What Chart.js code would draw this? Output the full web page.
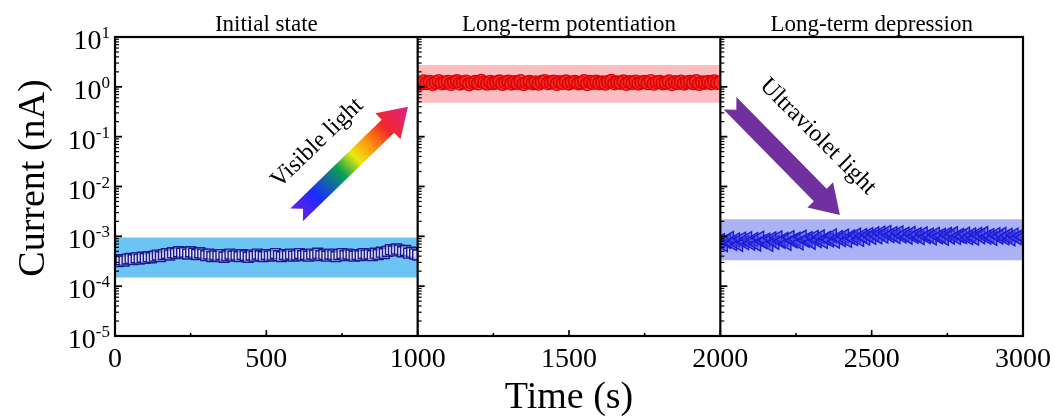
<!DOCTYPE html>
<html>
<head>
<meta charset="utf-8">
<script src="https://cdn.jsdelivr.net/npm/chart.js@4.4.1/dist/chart.umd.min.js"></script>
<style>
  html, body { margin: 0; padding: 0; background: #fff; }
</style>
</head>
<body>
<canvas id="chartCanvas" width="1055" height="419"></canvas>
<script>
// ---- data ----
const panelTitles = ["Initial state", "Long-term potentiation", "Long-term depression"];
const panelStarts = [0, 1000, 2000];
const timeStep = 10; // s between samples

// Initial state, x1e-4 nA
const initialCurrent = [
  3.3, 3.1, 3.4, 3.2, 3.5, 3.6, 3.4, 3.7, 3.5, 3.8,
  3.6, 3.9, 3.7, 4.0, 4.2, 3.9, 4.3, 4.5, 4.2, 4.7,
  4.5, 4.9, 4.6, 4.8, 4.4, 4.9, 4.6, 4.3, 4.7, 4.4,
  4.1, 4.4, 3.9, 4.2, 4.0, 4.3, 3.8, 4.1, 4.4, 4.0,
  4.2, 3.9, 4.3, 4.1, 3.8, 4.2, 4.0, 4.4, 4.1, 3.9,
  4.3, 4.0, 4.2, 4.5, 4.1, 3.9, 4.3, 4.1, 4.4, 4.0,
  4.2, 4.5, 4.1, 4.3, 4.0, 4.4, 4.2, 4.6, 4.1, 4.3,
  4.0, 4.4, 4.2, 3.9, 4.3, 4.5, 4.1, 4.4, 4.2, 4.0,
  4.3, 4.1, 4.5, 4.2, 4.4, 4.1, 4.6, 4.3, 4.8, 4.5,
  5.0, 5.4, 5.1, 5.6, 5.3, 4.9, 5.2, 4.6, 4.8, 4.4,
  4.2
];
// Long-term potentiation, nA
const ltpCurrent = [
  1.22, 1.16, 1.28, 1.19, 1.25, 1.14, 1.23, 1.30, 1.18, 1.21,
  1.26, 1.15, 1.24, 1.29, 1.17, 1.22, 1.27, 1.13, 1.20, 1.25,
  1.18, 1.31, 1.21, 1.16, 1.26, 1.19, 1.23, 1.28, 1.15, 1.22,
  1.27, 1.17, 1.24, 1.20, 1.29, 1.14, 1.21, 1.26, 1.18, 1.23,
  1.16, 1.25, 1.30, 1.19, 1.22, 1.27, 1.15, 1.24, 1.20, 1.28,
  1.17, 1.23, 1.26, 1.18, 1.21, 1.29, 1.14, 1.25, 1.20, 1.27,
  1.19, 1.22, 1.16, 1.26, 1.31, 1.18, 1.23, 1.21, 1.28, 1.15,
  1.24, 1.20, 1.27, 1.17, 1.22, 1.26, 1.19, 1.30, 1.16, 1.23,
  1.25, 1.18, 1.21, 1.28, 1.14, 1.24, 1.20, 1.27, 1.17, 1.22,
  1.26, 1.19, 1.29, 1.15, 1.23, 1.21, 1.25, 1.18, 1.28, 1.20,
  1.22
];
// Long-term depression, x1e-4 nA
const ltdCurrent = [
  8.2, 6.8, 7.9, 9.1, 7.2, 8.5, 6.9, 8.8, 7.5, 9.0,
  7.3, 8.6, 7.0, 9.2, 7.8, 8.4, 6.9, 8.9, 7.6, 9.3,
  7.9, 8.7, 7.2, 9.4, 8.1, 8.8, 7.4, 9.6, 8.3, 9.0,
  7.6, 9.5, 8.2, 9.8, 7.9, 9.1, 8.5, 10.2, 8.0, 9.4,
  8.6, 10.1, 8.3, 9.7, 9.0, 10.6, 8.7, 10.3, 9.2, 10.8,
  9.5, 11.2, 9.8, 11.6, 10.1, 12.0, 10.4, 11.3, 9.9, 11.7,
  10.2, 11.1, 9.6, 11.4, 10.0, 10.8, 9.4, 11.2, 9.9, 10.6,
  9.3, 11.0, 9.8, 10.5, 9.1, 10.9, 9.7, 11.3, 9.5, 10.4,
  9.9, 11.1, 9.4, 10.7, 9.2, 10.9, 9.8, 11.4, 9.6, 10.3,
  9.1, 10.8, 9.7, 11.0, 9.3, 10.5, 8.9, 10.6, 9.4, 10.2,
  9.6
];
const seriesScale = [1e-4, 1, 1e-4];

// shaded bands behind each trace (nA)
const bandTop = [9.5e-4, 2.75, 2.2e-3];
const bandBottom = [1.5e-4, 0.48, 3.3e-4];

const xTicks = [0, 500, 1000, 1500, 2000, 2500, 3000];
const yExponents = [-5, -4, -3, -2, -1, 0, 1];

// ---- helpers ----
const serif = '"Liberation Serif", "Times New Roman", serif';

function toPoints(start, values, scale) {
  return values.map((v, i) => ({ x: start + i * timeStep, y: v * scale }));
}

const bandColors = ["rgba(108,196,244,1)", "rgba(250,190,192,1)", "rgba(172,178,246,1)"];
const markerStyles = [
  { pointStyle: "rect", radius: 7, rotation: 0, border: "#1a1a8e", fill: "rgba(235,235,250,0.55)" },
  { pointStyle: "circle", radius: 6.5, rotation: 0, border: "#e00000", fill: "rgba(235,40,40,0.55)" },
  { pointStyle: "triangle", radius: 8, rotation: 270, border: "#1a1ad8", fill: "rgba(70,70,225,0.5)" },
];
const seriesValues = [initialCurrent, ltpCurrent, ltdCurrent];

// chart area is 908px wide, each panel ~302.67px
const panelPx = 908 / 3;
const panelClips = [
  { left: 0, top: 0, right: -2 * panelPx, bottom: 0 },
  { left: -panelPx, top: 0, right: -panelPx, bottom: 0 },
  { left: -2 * panelPx, top: 0, right: 0, bottom: 0 },
];

const datasets = [];
seriesValues.forEach((vals, i) => {
  const m = markerStyles[i];
  datasets.push({
    label: panelTitles[i],
    data: toPoints(panelStarts[i], vals, seriesScale[i]),
    showLine: false,
    pointStyle: m.pointStyle,
    pointRadius: m.radius,
    pointRotation: m.rotation,
    pointBorderColor: m.border,
    pointBackgroundColor: m.fill,
    pointBorderWidth: 1.4,
    clip: panelClips[i],
    order: 0,
  });
});
bandTop.forEach((top, i) => {
  datasets.push({
    label: "band " + i,
    data: [{ x: panelStarts[i], y: top }, { x: panelStarts[i] + 1000, y: top }],
    borderWidth: 0,
    pointRadius: 0,
    backgroundColor: bandColors[i],
    fill: { value: bandBottom[i] },
    order: 2,
  });
});

// draws a notched block arrow from tail to tip
function blockArrow(ctx, x0, y0, x1, y1, fillStyle) {
  const dx = x1 - x0, dy = y1 - y0;
  const L = Math.hypot(dx, dy);
  const shaft = 18, head = 36, headLen = 28, notch = 9;
  ctx.save();
  ctx.translate(x0, y0);
  ctx.rotate(Math.atan2(dy, dx));
  ctx.beginPath();
  ctx.moveTo(notch, 0);
  ctx.lineTo(0, -shaft / 2);
  ctx.lineTo(L - headLen, -shaft / 2);
  ctx.lineTo(L - headLen, -head / 2);
  ctx.lineTo(L, 0);
  ctx.lineTo(L - headLen, head / 2);
  ctx.lineTo(L - headLen, shaft / 2);
  ctx.lineTo(0, shaft / 2);
  ctx.closePath();
  ctx.fillStyle = typeof fillStyle === "function" ? fillStyle(ctx, L) : fillStyle;
  ctx.fill();
  ctx.restore();
}

function rotatedText(ctx, text, x, y, angleDeg, size) {
  ctx.save();
  ctx.translate(x, y);
  ctx.rotate(angleDeg * Math.PI / 180);
  ctx.font = size + "px " + serif;
  ctx.textAlign = "center";
  ctx.textBaseline = "middle";
  ctx.fillStyle = "#000";
  ctx.fillText(text, 0, 0);
  ctx.restore();
}

const decorPlugin = {
  id: "decor",
  afterDatasetsDraw(chart) {
    const { ctx, chartArea: a, scales } = chart;
    const x = scales.x, y = scales.y;
    ctx.save();

    // frame + panel separators
    ctx.strokeStyle = "#000";
    ctx.lineWidth = 2.2;
    ctx.strokeRect(a.left, a.top, a.right - a.left, a.bottom - a.top);
    [1000, 2000].forEach(t => {
      const px = x.getPixelForValue(t);
      ctx.beginPath();
      ctx.moveTo(px, a.top);
      ctx.lineTo(px, a.bottom);
      ctx.stroke();
    });

    // x ticks (inward)
    ctx.lineWidth = 1.6;
    for (let t = 0; t <= 3000; t += 250) {
      const px = x.getPixelForValue(t);
      const len = t % 500 === 0 ? 6 : 3;
      ctx.beginPath();
      ctx.moveTo(px, a.bottom);
      ctx.lineTo(px, a.bottom - len);
      ctx.stroke();
    }

    // y ticks on the left side of every panel
    panelStarts.forEach(t0 => {
      const px = x.getPixelForValue(t0);
      yExponents.forEach(e => {
        const py = y.getPixelForValue(Math.pow(10, e));
        ctx.lineWidth = 1.8;
        ctx.beginPath();
        ctx.moveTo(px, py);
        ctx.lineTo(px + 7, py);
        ctx.stroke();
        if (e < 1) {
          ctx.lineWidth = 1.2;
          for (let k = 2; k <= 9; k++) {
            const pm = y.getPixelForValue(k * Math.pow(10, e));
            ctx.beginPath();
            ctx.moveTo(px, pm);
            ctx.lineTo(px + 4, pm);
            ctx.stroke();
          }
        }
      });
    });

    ctx.fillStyle = "#000";

    // x tick labels
    ctx.font = "28px " + serif;
    ctx.textAlign = "center";
    ctx.textBaseline = "alphabetic";
    xTicks.forEach(t => {
      ctx.fillText(String(t), x.getPixelForValue(t), a.bottom + 31);
    });

    // y tick labels 10^n
    yExponents.forEach(e => {
      const py = y.getPixelForValue(Math.pow(10, e));
      const expText = String(e);
      ctx.font = "17px " + serif;
      const ew = ctx.measureText(expText).width;
      ctx.textAlign = "right";
      ctx.fillText(expText, a.left - 5, py + 1);
      ctx.font = "28px " + serif;
      ctx.fillText("10", a.left - 5 - ew, py + 12);
    });

    // panel titles
    ctx.font = "23px " + serif;
    ctx.textAlign = "center";
    panelTitles.forEach((title, i) => {
      const cx = x.getPixelForValue(panelStarts[i] + 500);
      ctx.fillText(title, cx, a.top - 6);
    });

    // axis titles
    ctx.font = "38px " + serif;
    ctx.fillText("Time (s)", (a.left + a.right) / 2, 408);
    ctx.save();
    ctx.translate(44, 178);
    ctx.rotate(-Math.PI / 2);
    ctx.fillText("Current (nA)", 0, 0);
    ctx.restore();

    // visible-light arrow (rainbow)
    const vx0 = x.getPixelForValue(600), vy0 = y.getPixelForValue(Math.pow(10, -2.57));
    const vx1 = x.getPixelForValue(968), vy1 = y.getPixelForValue(Math.pow(10, -0.4));
    blockArrow(ctx, vx0, vy0, vx1, vy1, (c, L) => {
      const g = c.createLinearGradient(0, 0, L, 0);
      g.addColorStop(0.0, "#6a1ee6");
      g.addColorStop(0.18, "#1a2cff");
      g.addColorStop(0.4, "#0aa050");
      g.addColorStop(0.53, "#eaea10");
      g.addColorStop(0.66, "#ff9010");
      g.addColorStop(0.8, "#f02828");
      g.addColorStop(1.0, "#e0208c");
      return g;
    });
    rotatedText(ctx, "Visible light",
      x.getPixelForValue(668), y.getPixelForValue(Math.pow(10, -1.13)), -44, 24);

    // ultraviolet-light arrow
    const ux0 = x.getPixelForValue(2032), uy0 = y.getPixelForValue(Math.pow(10, -0.33));
    const ux1 = x.getPixelForValue(2395), uy1 = y.getPixelForValue(Math.pow(10, -2.57));
    blockArrow(ctx, ux0, uy0, ux1, uy1, "#7030a0");
    rotatedText(ctx, "Ultraviolet light",
      x.getPixelForValue(2322), y.getPixelForValue(Math.pow(10, -1.0)), 45, 24);

    ctx.restore();
  },
};

new Chart(document.getElementById("chartCanvas"), {
  type: "line",
  data: { datasets },
  options: {
    responsive: false,
    animation: false,
    layout: { padding: { left: 115, right: 32, top: 37, bottom: 83 } },
    plugins: {
      legend: { display: false },
      tooltip: { enabled: false },
    },
    scales: {
      x: { type: "linear", min: 0, max: 3000, display: false },
      y: { type: "logarithmic", min: 1e-5, max: 10, display: false },
    },
  },
  plugins: [decorPlugin],
});
</script>
</body>
</html>
